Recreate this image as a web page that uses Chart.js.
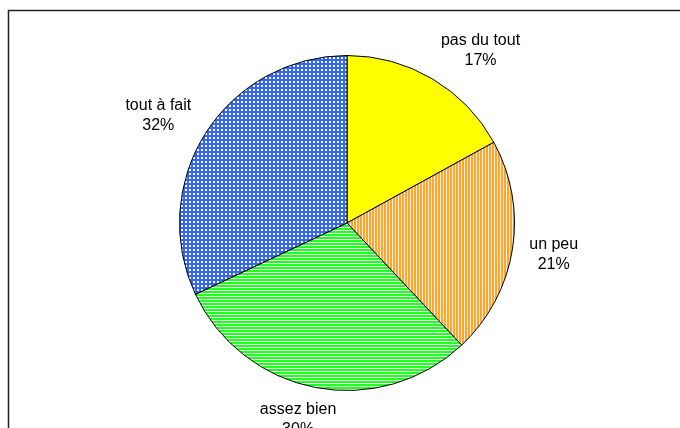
<!DOCTYPE html>
<html>
<head>
<meta charset="utf-8">
<script src="https://cdn.jsdelivr.net/npm/chart.js@4"></script>
<style>
  html, body { margin: 0; padding: 0; background: #fff; }
  #wrap { width: 680px; height: 428px; position: relative; }
</style>
</head>
<body>
<div id="wrap"><canvas id="myChart"></canvas></div>
<script>
const categories = ['pas du tout', 'un peu', 'assez bien', 'tout à fait'];
const shares = [17, 21, 30, 32];
const percentLabels = ['17%', '21%', '30%', '32%'];

// small tiles to mimic the old Excel fill patterns
function makePattern(w, h, draw) {
    const c = document.createElement('canvas');
    c.width = w; c.height = h;
    const g = c.getContext('2d');
    draw(g);
    return g.createPattern(c, 'repeat');
}

const yellowFill = '#FFFF00';
const orangeStripes = makePattern(3, 1, function (g) {
    g.fillStyle = '#FFA530'; g.fillRect(0, 0, 3, 1);
    g.fillStyle = '#FFF0D8'; g.fillRect(2, 0, 1, 1);
});
const greenStripes = makePattern(1, 3, function (g) {
    g.fillStyle = '#22FF22'; g.fillRect(0, 0, 1, 3);
    g.fillStyle = '#E8FFE8'; g.fillRect(0, 2, 1, 1);
});
const blueChecks = makePattern(4, 4, function (g) {
    g.fillStyle = '#3366FF'; g.fillRect(0, 0, 4, 4);
    g.fillStyle = '#FFFFFF'; g.fillRect(1, 1, 2, 2);
});

const framePlugin = {
    id: 'frame',
    afterDraw(chart) {
        const c = chart.ctx;
        c.save();
        c.strokeStyle = '#222';
        c.lineWidth = 1.5;
        c.beginPath();
        c.moveTo(8.5, 440);
        c.lineTo(8.5, 10.5);
        c.lineTo(700, 10.5);
        c.stroke();
        c.restore();
    }
};

const outsideLabels = {
    id: 'outsideLabels',
    afterDatasetsDraw(chart) {
        const c = chart.ctx;
        const meta = chart.getDatasetMeta(0);
        c.save();
        c.font = '16px "Liberation Sans", Arial, sans-serif';
        c.fillStyle = '#000';
        c.textAlign = 'center';
        c.textBaseline = 'middle';
        meta.data.forEach(function (arc, i) {
            const mid = (arc.startAngle + arc.endAngle) / 2;
            const dx = Math.cos(mid), dy = Math.sin(mid);
            const w = Math.max(c.measureText(categories[i]).width, c.measureText(percentLabels[i]).width);
            const h = 46;
            const ax = arc.x + (arc.outerRadius + 17) * dx;
            const ay = arc.y + (arc.outerRadius + 10) * dy;
            const px = ax + Math.sign(dx) * Math.min(1, Math.abs(dx) * 2) * w / 2;
            const py = ay + dy * h / 2;
            c.fillText(categories[i], px, py - 10);
            c.fillText(percentLabels[i], px, py + 10);
        });
        c.restore();
    }
};

new Chart(document.getElementById('myChart'), {
    type: 'pie',
    data: {
        labels: categories,
        datasets: [{
            data: shares,
            backgroundColor: [yellowFill, orangeStripes, greenStripes, blueChecks],
            borderColor: '#000',
            borderWidth: 1
        }]
    },
    options: {
        responsive: true,
        maintainAspectRatio: false,
        animation: false,
        layout: { padding: { left: 179, right: 165, top: 55, bottom: 37 } },
        plugins: {
            legend: { display: false },
            tooltip: { enabled: false }
        }
    },
    plugins: [framePlugin, outsideLabels]
});
</script>
</body>
</html>
